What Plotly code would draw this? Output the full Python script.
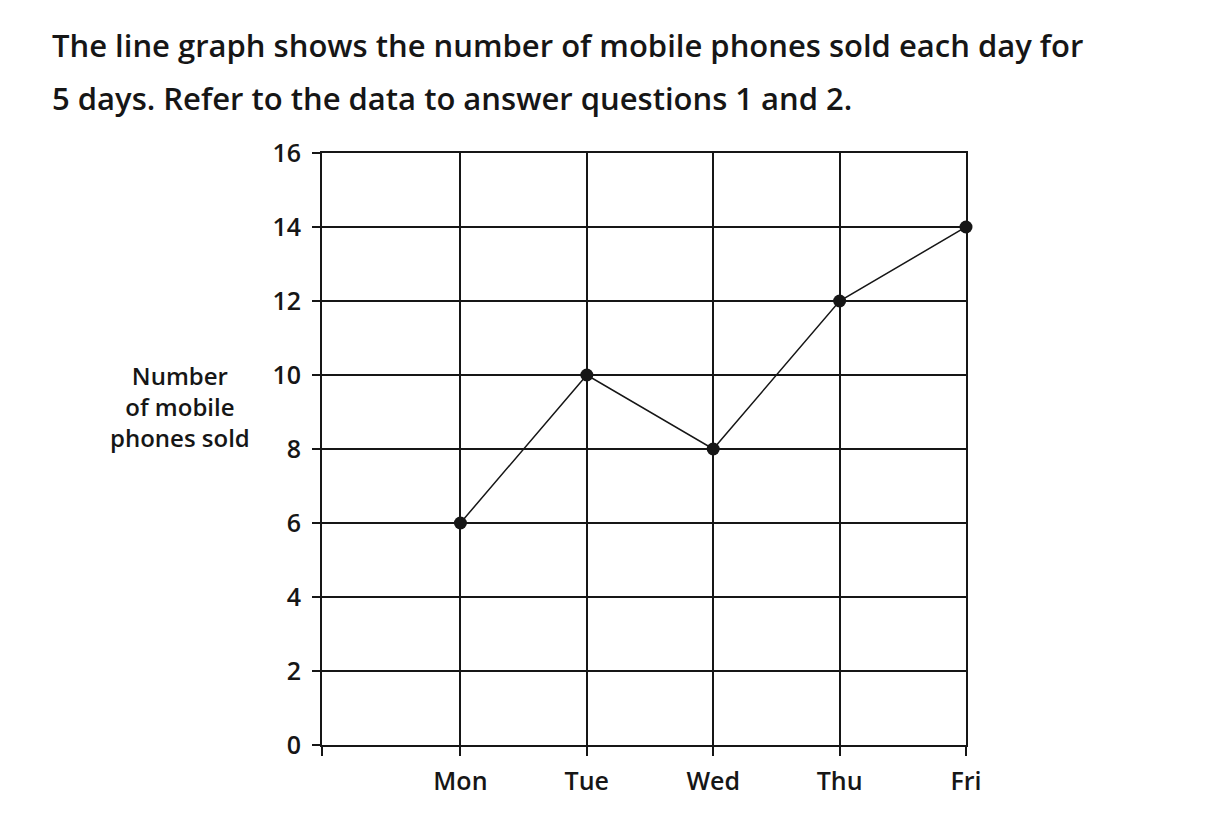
import plotly.graph_objects as go

days = ["Mon", "Tue", "Wed", "Thu", "Fri"]
phones_sold = [6, 10, 8, 12, 14]
y_ticks = [0, 2, 4, 6, 8, 10, 12, 14, 16]

title_lines = [
    "The line graph shows the number of mobile phones sold each day for",
    "5 days. Refer to the data to answer questions 1 and 2.",
]
y_label = "Number<br>of mobile<br>phones sold"

ink = "#161616"
font = "'Open Sans', Lato, sans-serif"
wt = 600

x_pos = list(range(1, len(days) + 1))
x_left = 1 - 138 / 126  # left axis sits a bit before Mon

# page body adds ~8px offset, so margins are shifted by that
ml, mr, mt, mb = 314, 271, 145, 76
pw = 1229 - ml - mr
ph = 813 - mt - mb

fig = go.Figure()
fig.add_trace(go.Scatter(
    x=x_pos, y=phones_sold, mode="lines+markers",
    line=dict(color=ink, width=1.5),
    marker=dict(color=ink, size=13),
    showlegend=False, cliponaxis=False,
))

fig.update_layout(
    width=1229, height=813,
    margin=dict(l=ml, r=mr, t=mt, b=mb),
    paper_bgcolor="white", plot_bgcolor="white",
    font=dict(family=font, color=ink),
)

fig.update_xaxes(
    range=[x_left, 5], tickmode="array",
    tickvals=[x_left] + x_pos, ticktext=[""] + days,
    showgrid=True, gridcolor=ink, gridwidth=1.8,
    showline=True, linecolor=ink, linewidth=1.8, mirror=True,
    ticks="outside", ticklen=9, tickwidth=1.8, tickcolor=ink,
    tickfont=dict(size=25, color=ink, weight=wt), ticklabelstandoff=4,
    zeroline=False, fixedrange=True,
)
fig.update_yaxes(
    range=[0, 16], tickmode="array", tickvals=y_ticks,
    showgrid=True, gridcolor=ink, gridwidth=1.8,
    showline=True, linecolor=ink, linewidth=1.8, mirror=True,
    ticks="outside", ticklen=8, tickwidth=1.8, tickcolor=ink,
    tickfont=dict(size=25, color=ink, weight=wt), ticklabelstandoff=6,
    zeroline=False, fixedrange=True,
)

for i, line in enumerate(title_lines):
    fig.add_annotation(
        text=line, xref="paper", yref="paper",
        x=(42 - ml) / pw, y=(813 - mb - 37 - 53 * i) / ph,
        xanchor="left", yanchor="middle", showarrow=False,
        font=dict(size=31, color=ink, family=font, weight=wt),
    )

fig.add_annotation(
    text=y_label, xref="paper", yref="paper",
    x=(172 - ml) / pw, y=(813 - mb - 398) / ph,
    xanchor="center", yanchor="middle", showarrow=False, align="center",
    font=dict(size=24, color=ink, family=font, weight=wt),
)

fig.write_html("out.html")
